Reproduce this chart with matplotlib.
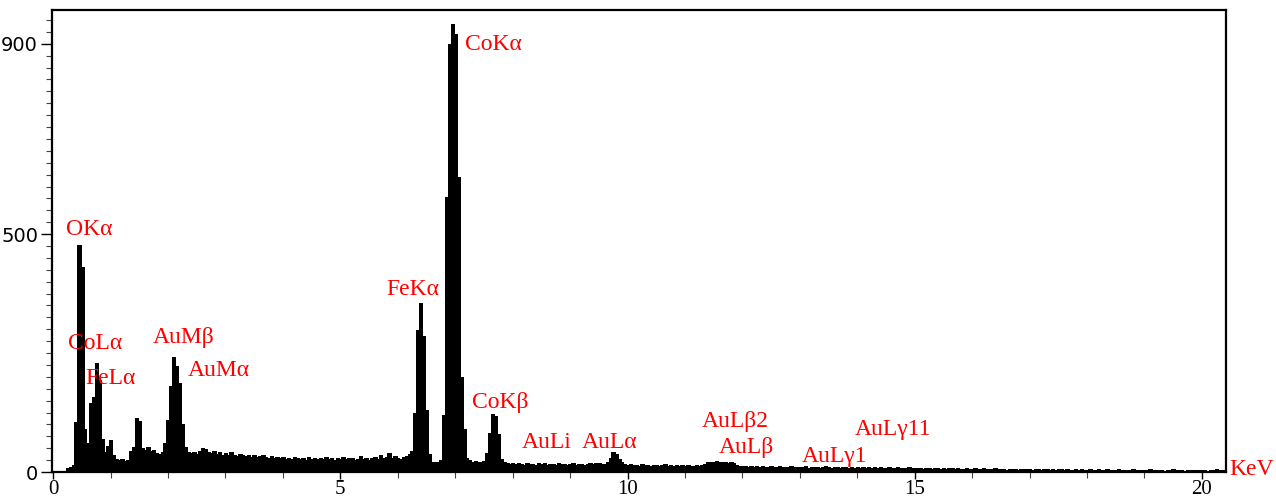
import numpy as np
import matplotlib
matplotlib.use("Agg")
import matplotlib.pyplot as plt
from matplotlib.ticker import FixedLocator, MultipleLocator

# Channel grid: 0.05 keV steps from 0 to 20.40 keV
channel_width_kev = 0.05
# Counts per channel, one row per keV (20 channels per row)
counts_rows = [
    [0, 0, 0, 0, 0, 8, 10, 14, 105, 477, 431, 90, 62, 145, 158, 229, 193, 70, 42, 55],
    [67, 36, 28, 25, 27, 24, 26, 45, 52, 114, 108, 50, 46, 52, 44, 46, 40, 38, 42, 60],
    [110, 180, 242, 222, 187, 100, 52, 42, 40, 43, 38, 45, 50, 48, 42, 40, 45, 38, 41, 36],
    [39, 35, 41, 36, 34, 38, 36, 33, 36, 32, 35, 31, 34, 36, 31, 30, 34, 29, 32, 29],
    [31, 28, 30, 27, 32, 29, 28, 30, 26, 31, 28, 29, 27, 30, 28, 32, 27, 29, 26, 30],
    [28, 31, 27, 29, 30, 26, 28, 33, 27, 29, 26, 30, 32, 28, 35, 29, 31, 40, 30, 34],
    [30, 28, 31, 33, 38, 45, 124, 299, 355, 285, 130, 38, 22, 20, 22, 25, 120, 578, 900, 942],
    [920, 620, 200, 90, 30, 25, 22, 24, 21, 20, 23, 40, 82, 122, 118, 80, 28, 20, 18, 17],
    [18, 16, 19, 17, 15, 18, 16, 17, 15, 19, 16, 18, 15, 17, 16, 15, 18, 16, 17, 15],
    [16, 18, 15, 17, 16, 15, 17, 18, 16, 19, 18, 16, 17, 22, 30, 42, 38, 28, 20, 17],
    [15, 16, 14, 15, 13, 16, 14, 15, 13, 14, 15, 13, 14, 16, 13, 14, 12, 15, 13, 14],
    [13, 14, 12, 13, 15, 12, 14, 16, 20, 22, 21, 23, 20, 22, 21, 19, 22, 18, 15, 13],
    [12, 13, 11, 12, 10, 12, 11, 13, 10, 11, 12, 10, 11, 12, 10, 11, 10, 12, 11, 10],
    [11, 10, 12, 9, 11, 10, 11, 9, 10, 12, 10, 9, 11, 10, 9, 10, 11, 9, 10, 9],
    [10, 9, 11, 9, 10, 8, 10, 9, 11, 9, 8, 10, 9, 8, 10, 9, 8, 9, 10, 8],
    [9, 8, 9, 7, 8, 9, 7, 8, 9, 7, 8, 7, 9, 8, 7, 8, 7, 6, 8, 7],
    [7, 8, 6, 7, 8, 6, 7, 6, 8, 7, 6, 7, 5, 7, 6, 7, 5, 6, 7, 6],
    [6, 5, 7, 6, 5, 6, 7, 5, 6, 5, 7, 6, 5, 6, 5, 4, 6, 5, 6, 5],
    [5, 6, 4, 5, 6, 5, 4, 6, 5, 4, 5, 6, 4, 5, 4, 5, 6, 4, 5, 4],
    [5, 4, 6, 4, 5, 4, 5, 3, 5, 4, 6, 4, 5, 4, 3, 5, 4, 5, 4, 5],
    [4, 5, 3, 5, 4, 6, 4, 5, 4],
]

# Peak labels: text, energy (keV), counts (label baseline position)
peak_labels = ["OKα", "CoLα", "FeLα", "AuMβ", "AuMα", "FeKα", "CoKα", "CoKβ",
               "AuLi", "AuLα", "AuLβ2", "AuLβ", "AuLγ1", "AuLγ11"]
label_energy = [0.23, 0.26, 0.56, 1.74, 2.35, 5.81, 7.17, 7.29,
                8.16, 9.21, 11.30, 11.59, 13.04, 13.96]
label_counts = [498, 259, 185, 271, 202, 372, 887, 135,
                50, 50, 95, 40, 21, 78]

x_major_ticks = [0, 5, 10, 15, 20]
y_major_ticks = [0, 500, 900]

counts = np.concatenate([np.array(r, dtype=float) for r in counts_rows])
energy = np.arange(len(counts)) * channel_width_kev

fig = plt.figure(figsize=(12.76, 5.01), dpi=100)
ax = fig.add_axes([52 / 1276, 1 - 472 / 501, (1226 - 52) / 1276, (472 - 10) / 501])

ax.bar(energy, counts, width=channel_width_kev * 1.2, align="center",
       color="black", edgecolor="black", linewidth=0.6, antialiased=False)

ax.set_xlim(-0.02, 20.42)
ax.set_ylim(0, 971)

ax.xaxis.set_major_locator(FixedLocator(x_major_ticks))
ax.xaxis.set_minor_locator(MultipleLocator(1))
ax.yaxis.set_major_locator(FixedLocator(y_major_ticks))
ax.yaxis.set_minor_locator(MultipleLocator(25))

ax.tick_params(axis="both", which="major", direction="out", length=8, width=1, color="black")
ax.tick_params(axis="both", which="minor", direction="out", length=4, width=0.8, color="#444444")
ax.tick_params(axis="x", which="major", length=5, labelsize=15, pad=1)
ax.tick_params(axis="y", which="major", labelsize=14, pad=2)
for lab in ax.get_xticklabels():
    lab.set_family("Liberation Serif")
for lab in ax.get_yticklabels():
    lab.set_family("DejaVu Sans")

for sp in ax.spines.values():
    sp.set_linewidth(1.6)
    sp.set_color("black")

for txt, e, c in zip(peak_labels, label_energy, label_counts):
    ax.text(e, c, txt, color="red", fontsize=17, family="Liberation Serif",
            ha="left", va="baseline")

ax.text(20.47, -6, "KeV", color="red", fontsize=17, family="Liberation Serif",
        ha="left", va="baseline", clip_on=False)

fig.savefig("out.png", dpi=100)
